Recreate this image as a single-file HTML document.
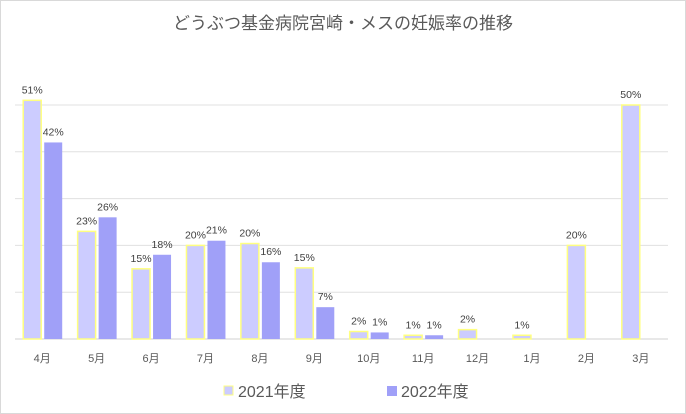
<!DOCTYPE html>
<html><head><meta charset="utf-8"><style>
html,body{margin:0;padding:0;background:#fff;}
svg{display:block;font-family:"Liberation Sans","Noto Sans CJK JP",sans-serif;}
</style></head><body>
<svg id="chart" width="686" height="414" viewBox="0 0 686 414">
<rect x="0.5" y="0.5" width="685" height="413" fill="#fff" stroke="#d9d9d9"/>
<text x="343" y="29" text-anchor="middle" font-size="17" fill="#595959">どうぶつ基金病院宮崎・メスの妊娠率の推移</text>
<g id="grid"></g><g id="bars"></g><g id="labels"></g>
<g>
<rect x="224" y="386" width="9" height="9" fill="#ccccff" stroke="#ffff80" stroke-width="1"/>
<text x="238" y="397" font-size="16" fill="#595959">2021年度</text>
<rect x="387" y="386" width="10" height="10" fill="#a0a0f8"/>
<text x="401" y="397" font-size="16" fill="#595959">2022年度</text>
</g>
</svg>
<script>
const categories=["4月","5月","6月","7月","8月","9月","10月","11月","12月","1月","2月","3月"];
const series2021=[51,23,15,20,20.4,15.2,1.6,0.8,2,0.8,20,50];
const series2022=[42,26,18,21,16.4,6.8,1.4,0.8,null,null,null,null];
const labels2021=["51%","23%","15%","20%","20%","15%","2%","1%","2%","1%","20%","50%"];
const labels2022=["42%","26%","18%","21%","16%","7%","1%","1%",null,null,null,null];
const yTicks=[0,10,20,30,40,50];
const NS="http://www.w3.org/2000/svg";
const plotL=15,plotR=668,base=339,perPct=4.68;
const band=(plotR-plotL)/categories.length;
function y(v){return base-v*perPct;}
function cx(i){return plotL+band*(i+0.5);}
function mk(tag,attrs,parent){const e=document.createElementNS(NS,tag);for(const k in attrs)e.setAttribute(k,attrs[k]);parent.appendChild(e);return e;}
const grid=document.getElementById('grid'),bars=document.getElementById('bars'),labels=document.getElementById('labels');
yTicks.forEach(t=>{
  const l=mk('line',{x1:plotL,x2:plotR,y1:y(t),y2:y(t),stroke:t===0?'#d0d0d0':'#e0e0e0','stroke-width':1},grid);
  
  
});
categories.forEach((c,i)=>{
  const t=mk('text',{x:cx(i),y:362,'text-anchor':'middle','font-size':11,fill:'#595959'},labels);
  t.textContent=c;
  
  
  const v1=series2021[i];
  if(v1!=null){
    const r=mk('rect',{x:cx(i)-19,y:y(v1),width:18,height:base-y(v1),fill:'#ccccff',stroke:'#ffff80','stroke-width':1.5},bars);
    
    
    const lt=mk('text',{x:cx(i)-10,y:y(v1)-7,'text-anchor':'middle','font-size':10.5,fill:'#404040'},labels);
    lt.textContent=labels2021[i];
    
    
  }
  const v2=series2022[i];
  if(v2!=null){
    const r=mk('rect',{x:cx(i)+2,y:y(v2),width:18,height:base-y(v2),fill:'#a0a0f8'},bars);
    
    
    const lt=mk('text',{x:cx(i)+11,y:y(v2)-7,'text-anchor':'middle','font-size':10.5,fill:'#404040'},labels);
    lt.textContent=labels2022[i];
    
    
  }
});
</script>
</body></html>
